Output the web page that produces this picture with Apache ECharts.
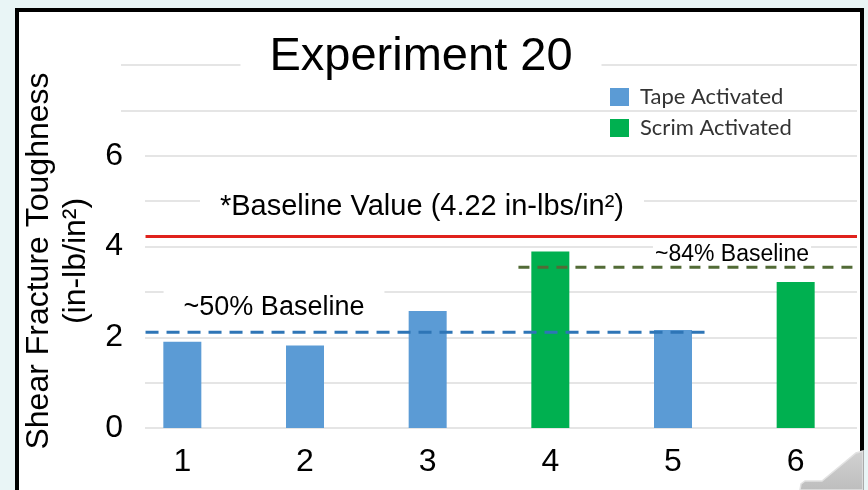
<!DOCTYPE html>
<html>
<head>
<meta charset="utf-8">
<script src="https://cdn.jsdelivr.net/npm/echarts@6/dist/echarts.min.js"></script>
<style>
  html, body { margin: 0; padding: 0; background: #e9f5f6; }
  #chart { width: 868px; height: 490px; }
</style>
</head>
<body>
<div id="chart"></div>
<script>
// Specimen numbers along the x axis
const categories = ['1', '2', '3', '4', '5', '6'];
// Shear fracture toughness (in-lb/in^2) per specimen
const tapeValues = [1.90, 1.82, 2.58, null, 2.16, null];
const scrimValues = [null, null, null, 3.89, null, 3.22];
// Reference levels
const baselineValue = 4.22;
const tapeFraction = 0.50;
const scrimFraction = 0.84;
// Horizontal extent of each reference line, in category units (0..6)
const baselineSpan = [0.2, 6];
const tapeRefSpan = [0.2, 4.82];
const scrimRefSpan = [3.24, 6];
// Y tick labels that are printed
const yTickLabels = [0, 2, 4, 6];

const FONT = '"Liberation Sans", Arial, Helvetica, sans-serif';
const GRID_COLOR = '#dcdcdc';
const NONE = 'rgba(0,0,0,0)';

function hline(span, value) {
  return [[span[0], value], [span[1], value]];
}

const chart = echarts.init(document.getElementById('chart'), null, { renderer: 'canvas' });

chart.setOption({
  animation: false,
  backgroundColor: '#e9f5f6',
  grid: [
    { left: 121, right: 11, top: 65, bottom: 62 },
    { left: 145, right: 11, top: 65, bottom: 62 }
  ],
  xAxis: [
    {
      type: 'category', gridIndex: 0, data: categories,
      axisLine: { show: false }, axisTick: { show: false },
      axisLabel: { fontSize: 32, color: '#000', fontFamily: FONT, margin: 18 }
    },
    { type: 'value', gridIndex: 0, min: 0, max: 6, show: false },
    { type: 'value', gridIndex: 1, min: 0, max: 1, show: false }
  ],
  yAxis: [
    {
      type: 'value', gridIndex: 0, min: 0, max: 8, interval: 1,
      axisLine: { show: false }, axisTick: { show: false }, axisLabel: { show: false },
      splitLine: { show: true, lineStyle: { width: 1.5, color: [NONE, NONE, NONE, NONE, NONE, NONE, NONE, GRID_COLOR, GRID_COLOR] } }
    },
    {
      type: 'value', gridIndex: 1, min: 0, max: 8, interval: 1,
      axisLine: { show: false }, axisTick: { show: false },
      axisLabel: {
        fontSize: 32, color: '#000', fontFamily: FONT, margin: 22,
        formatter: v => (yTickLabels.indexOf(v) >= 0 ? String(v) : '')
      },
      splitLine: { show: true, lineStyle: { width: 1.5, color: [GRID_COLOR, GRID_COLOR, GRID_COLOR, GRID_COLOR, GRID_COLOR, GRID_COLOR, GRID_COLOR, NONE, NONE] } }
    }
  ],
  legend: {
    data: ['Tape Activated', 'Scrim Activated'],
    orient: 'vertical', left: 610, top: 86, padding: 0,
    icon: 'rect', itemWidth: 19, itemHeight: 18, itemGap: 9,
    textStyle: { fontFamily: 'Lato, "Open Sans", sans-serif', fontSize: 22, color: '#333333', padding: [0, 0, 0, 6] }
  },
  series: [
    {
      name: 'Tape Activated', type: 'bar', xAxisIndex: 0, yAxisIndex: 0,
      data: tapeValues, barWidth: 38, barGap: '-100%',
      itemStyle: { color: '#5b9bd5' }
    },
    {
      name: 'Scrim Activated', type: 'bar', xAxisIndex: 0, yAxisIndex: 0,
      data: scrimValues, barWidth: 38, barGap: '-100%',
      itemStyle: { color: '#00b050' }
    },
    {
      name: 'Baseline', type: 'line', xAxisIndex: 1, yAxisIndex: 0,
      data: hline(baselineSpan, baselineValue), symbol: 'none', z: 3,
      lineStyle: { color: '#e0221c', width: 3 }
    },
    {
      name: 'Tape reference', type: 'line', xAxisIndex: 1, yAxisIndex: 0,
      data: hline(tapeRefSpan, baselineValue * tapeFraction), symbol: 'none', z: 3,
      lineStyle: { color: '#2e75b6', width: 3, type: [13, 8] }
    },
    {
      name: 'Scrim reference', type: 'line', xAxisIndex: 1, yAxisIndex: 0,
      data: hline(scrimRefSpan, baselineValue * scrimFraction), symbol: 'none', z: 3,
      lineStyle: { color: '#526b36', width: 3, type: [11, 8] }
    }
  ],
  graphic: [
    {
      type: 'rect', z: -10, silent: true,
      shape: { x: 17, y: 10, width: 845, height: 500 },
      style: { fill: '#ffffff', stroke: '#000000', lineWidth: 4 }
    },
    {
      type: 'text', z: 1, silent: true,
      style: {
        text: 'Experiment 20', x: 421, y: 57, align: 'center', verticalAlign: 'middle',
        font: '47px ' + FONT, fill: '#000', backgroundColor: '#fff', padding: [6, 29]
      }
    },
    {
      type: 'text', z: 1, silent: true,
      style: {
        text: '*Baseline Value (4.22 in-lbs/in²)', x: 422, y: 207, align: 'center', verticalAlign: 'middle',
        font: '29px ' + FONT, fill: '#000', backgroundColor: '#fff', padding: [8, 20]
      }
    },
    {
      type: 'text', z: 1, silent: true,
      style: {
        text: '~50% Baseline', x: 274, y: 308, align: 'center', verticalAlign: 'middle',
        font: '27px ' + FONT, fill: '#000', backgroundColor: '#fff', padding: [8, 20]
      }
    },
    {
      type: 'text', z: 1, silent: true,
      style: {
        text: '~84% Baseline', x: 732, y: 255, align: 'center', verticalAlign: 'middle',
        font: '23px ' + FONT, fill: '#000', backgroundColor: '#fff', padding: [4, 2]
      }
    },
    {
      type: 'text', z: 1, silent: true, rotation: Math.PI / 2, x: 58, y: 261,
      style: {
        text: 'Shear Fracture Toughness\n(in-lb/in²)', x: 0, y: 0, align: 'center', verticalAlign: 'middle',
        font: '32px ' + FONT, lineHeight: 37, fill: '#000'
      }
    },
    {
      type: 'polygon', z: 20, silent: true,
      shape: { points: [[800, 490], [801, 484], [805, 481], [822, 481], [856, 453], [863, 451], [863, 490]] },
      style: {
        fill: new echarts.graphic.LinearGradient(0, 0, 0, 1, [
          { offset: 0, color: '#d2d2d2' }, { offset: 1, color: '#bdbdbd' }
        ]),
        stroke: '#e2e2e2', lineWidth: 1.5
      }
    }
  ]
});
</script>
</body>
</html>
